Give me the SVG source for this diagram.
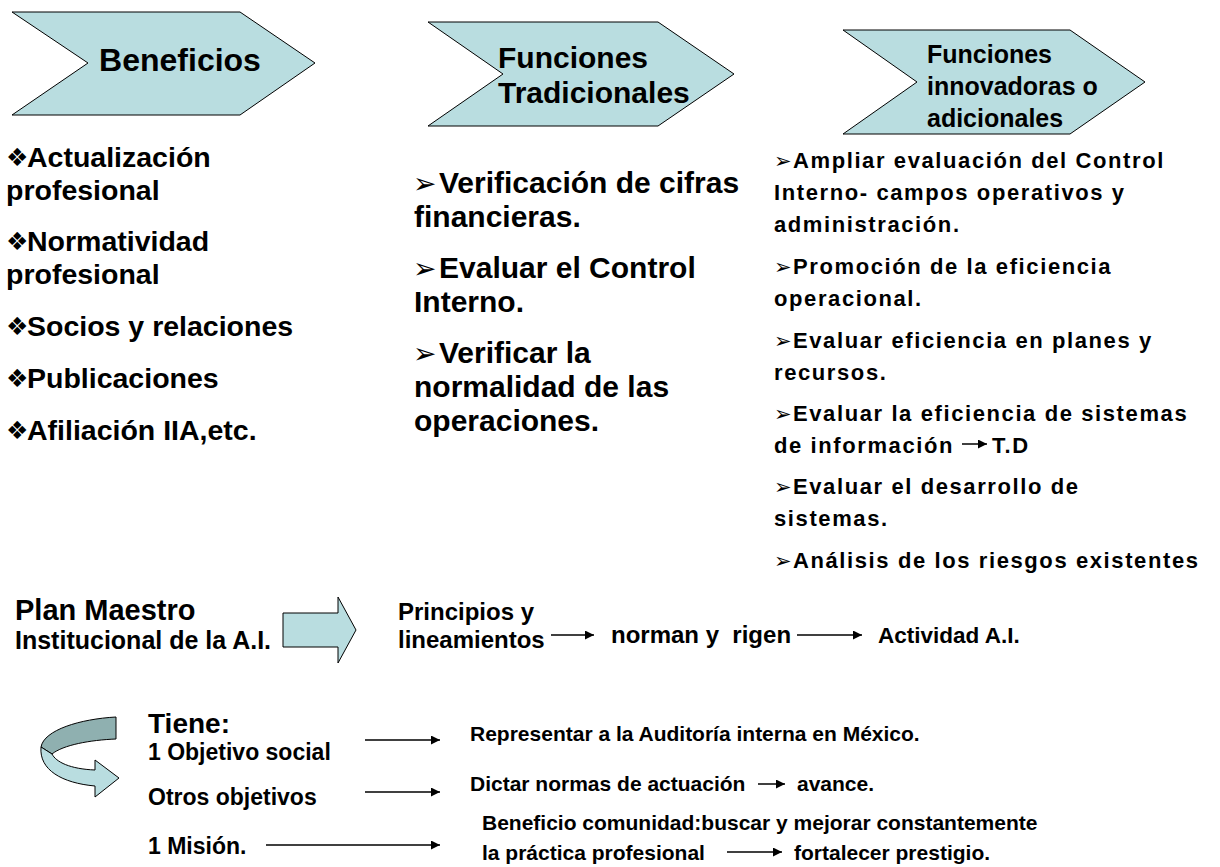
<svg xmlns="http://www.w3.org/2000/svg" width="1220" height="867" viewBox="0 0 1220 867">
<style>
text{font-family:"Liberation Sans",Arial,sans-serif;font-weight:bold;fill:#000}
.chev{fill:#B9DDE0;stroke:#000;stroke-width:1}
.l{font-size:28.5px}
.m{font-size:30px}
.r{font-size:22px;letter-spacing:1.6px}
.b{font-family:"DejaVu Sans",sans-serif;font-weight:normal}
.bl{font-size:25px}
.bm{font-size:28px}
.br{font-size:21px}
.bs{font-size:21px}
.con{stroke:#000;stroke-width:1.5;fill:none;marker-end:url(#ah)}
</style>
<defs>
<marker id="ah" viewBox="0 0 10 10" refX="10" refY="5" markerWidth="9" markerHeight="9" markerUnits="userSpaceOnUse" orient="auto"><path d="M0,0 L10,5 L0,10 Z" fill="#000"/></marker>
</defs>
<rect width="1220" height="867" fill="#fff"/>

<g id="beneficios">
<polygon class="chev" points="12,12 240,12 315,63 240,115 12,115 88,63"/>
<text x="180" y="71" font-size="32" text-anchor="middle">Beneficios</text>
</g>
<g id="tradicionales">
<polygon class="chev" points="428,22 658,22 734,74 658,126 428,126 503,74"/>
<text x="498" y="68" font-size="30">Funciones</text>
<text x="498" y="103" font-size="30">Tradicionales</text>
</g>
<g id="innovadoras">
<polygon class="chev" points="843,30 1070,30 1145,82 1070,134 843,134 917,82"/>
<text x="927" y="63" font-size="25">Funciones</text>
<text x="927" y="95" font-size="25">innovadoras o</text>
<text x="927" y="127" font-size="25">adicionales</text>
</g>

<g id="lista-beneficios">
<text class="b bl" x="6" y="166">❖</text><text class="l" x="27" y="167">Actualización</text>
<text class="l" x="6" y="200">profesional</text>
<text class="b bl" x="6" y="250">❖</text><text class="l" x="27" y="251">Normatividad</text>
<text class="l" x="6" y="284">profesional</text>
<text class="b bl" x="6" y="335">❖</text><text class="l" x="27" y="336">Socios y relaciones</text>
<text class="b bl" x="6" y="387">❖</text><text class="l" x="27" y="388">Publicaciones</text>
<text class="b bl" x="6" y="439">❖</text><text class="l" x="27" y="440">Afiliación IIA,etc.</text>
</g>

<g id="lista-tradicionales">
<text class="b bm" x="413" y="193">➢</text><text class="m" x="439" y="193">Verificación de cifras</text>
<text class="m" x="414" y="227">financieras.</text>
<text class="b bm" x="413" y="278">➢</text><text class="m" x="439" y="278">Evaluar el Control</text>
<text class="m" x="414" y="312">Interno.</text>
<text class="b bm" x="413" y="363">➢</text><text class="m" x="439" y="363">Verificar la</text>
<text class="m" x="414" y="397">normalidad de las</text>
<text class="m" x="414" y="431">operaciones.</text>
</g>

<g id="lista-innovadoras">
<text class="b br" x="774" y="168">➢</text><text class="r" x="793" y="168">Ampliar evaluación del Control</text>
<text class="r" x="774" y="200">Interno- campos operativos y</text>
<text class="r" x="774" y="232">administración.</text>
<text class="b br" x="774" y="274">➢</text><text class="r" x="793" y="274">Promoción de la eficiencia</text>
<text class="r" x="774" y="306">operacional.</text>
<text class="b br" x="774" y="348">➢</text><text class="r" x="793" y="348">Evaluar eficiencia en planes y</text>
<text class="r" x="774" y="380">recursos.</text>
<text class="b br" x="774" y="421">➢</text><text class="r" x="793" y="421">Evaluar la eficiencia de sistemas</text>
<text class="r" x="774" y="453">de información</text>
<text class="r" x="992" y="453">T.D</text>
<text class="b br" x="774" y="494">➢</text><text class="r" x="793" y="494">Evaluar el desarrollo de</text>
<text class="r" x="774" y="526">sistemas.</text>
<text class="b br" x="774" y="568">➢</text><text class="r" x="793" y="568">Análisis de los riesgos existentes</text>
</g>

<g id="plan-maestro">
<text x="15" y="620" font-size="29">Plan Maestro</text>
<text x="15" y="649" font-size="25">Institucional de la A.I.</text>
</g>
<g id="flecha-bloque">
<polygon class="chev" points="283,613 338,613 338,597 356,630 338,663 338,647 283,647"/>
</g>
<g id="principios">
<text x="398" y="620" font-size="24">Principios y</text>
<text x="398" y="648" font-size="24">lineamientos</text>
</g>
<g id="norman"><text x="611" y="643" font-size="24">norman y&#160; rigen</text></g>
<g id="actividad"><text x="878" y="643" font-size="22.5">Actividad A.I.</text></g>

<g id="flecha-curva">
<path d="M116,717 L116,739 C90,740 63,745 52,754 L41,747 C44,730 80,719 116,717 Z" fill="#8FB0B0" stroke="#000" stroke-width="1"/>
<path d="M41,747 C39,770 62,783 95,786 L95,797 L119,778 L95,760 L95,770 C70,769 56,762 52,754 Z" fill="#B9DDE0" stroke="#000" stroke-width="1"/>
</g>

<g id="tiene">
<text x="148" y="733" font-size="28">Tiene:</text>
<text x="148" y="760" font-size="23">1 Objetivo social</text>
<text x="148" y="805" font-size="23">Otros objetivos</text>
<text x="148" y="854" font-size="23">1 Misión.</text>
</g>
<g id="objetivos">
<text class="bs" x="470" y="741">Representar a la Auditoría interna en México.</text>
<text class="bs" x="470" y="791">Dictar normas de actuación</text>
<text class="bs" x="797" y="791">avance.</text>
<text class="bs" x="482" y="830">Beneficio comunidad:buscar y mejorar constantemente</text>
<text class="bs" x="482" y="860">la práctica profesional</text>
<text class="bs" x="794" y="860">fortalecer prestigio.</text>
</g>

<g id="connectors">
<line class="con" x1="962" y1="444" x2="987" y2="444"/>
<line class="con" x1="551" y1="635" x2="594" y2="635"/>
<line class="con" x1="797" y1="635" x2="862" y2="635"/>
<line class="con" x1="365" y1="740" x2="440" y2="740"/>
<line class="con" x1="365" y1="792" x2="440" y2="792"/>
<line class="con" x1="266" y1="845" x2="440" y2="845"/>
<line class="con" x1="758" y1="784" x2="785" y2="784"/>
<line class="con" x1="727" y1="852" x2="782" y2="852"/>
</g>
</svg>
